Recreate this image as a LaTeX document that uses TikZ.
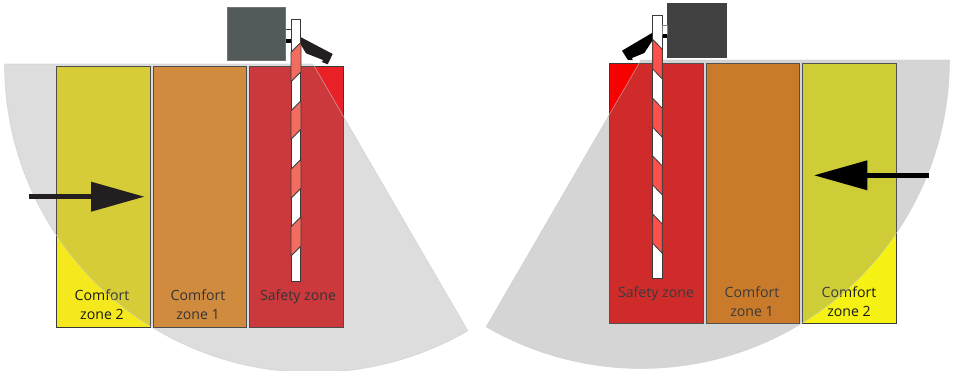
\documentclass[tikz,border=0pt]{standalone}
\usepackage{fontspec}
\setmainfont{Open Sans}
\usepackage{xcolor}
\usetikzlibrary{arrows.meta,positioning}
\definecolor{yellowL}{RGB}{245,233,30}
\definecolor{orangeL}{RGB}{238,144,40}
\definecolor{redL}{RGB}{233,32,37}
\definecolor{stripeL}{RGB}{243,108,96}
\definecolor{boxL}{RGB}{82,90,90}
\definecolor{darkL}{RGB}{35,31,32}
\definecolor{yellowR}{RGB}{245,242,20}
\definecolor{orangeR}{RGB}{237,120,2}
\definecolor{redR}{RGB}{246,2,0}
\definecolor{stripeR}{RGB}{255,80,76}
\definecolor{boxR}{RGB}{65,65,65}
\definecolor{edgegray}{RGB}{58,58,58}

\begin{document}
\begin{tikzpicture}[
  x=0.75pt, y=-0.75pt,
  zonebox/.style={rectangle, draw=edgegray, line width=0.7pt, minimum width=70.2pt, minimum height=195.6pt, inner sep=0pt},
  zonelbl/.style={font=\fontsize{10.6pt}{14.4pt}\selectfont, text=black!90, align=center, anchor=north, inner sep=0pt},
  sensor/.style={line width=0.5pt, draw=black!20},
  pole/.style={draw=edgegray, line width=0.7pt, fill=white},
  stripe/.style={draw=edgegray, line width=0.6pt},
  flow/.style={line width=3.5pt, -{Triangle[length=40pt,width=21.5pt]}},
  node distance=1.5pt
]
  \clip (0,0) rectangle (953,371);

  % left gate
  \node[zonebox, fill=yellowL] (ComfortTwoL) at (103.5,196.6) {};
  \node[zonebox, fill=orangeL, right=of ComfortTwoL] (ComfortOneL) {};
  \node[zonebox, fill=redL, right=of ComfortOneL] (SafetyL) {};
  \node[zonelbl] (TxtTwoL) at (102,289) {Comfort\\zone 2};
  \node[zonelbl] (TxtOneL) at (198,289) {Comfort\\zone 1};
  \node[zonelbl] (TxtSafeL) at (298,289) {Safety zone};

  \fill[gray, fill opacity=0.27] (313,64) -- (4.5,64) arc[start angle=180, end angle=59.86, radius=308.5] -- cycle;
  \draw[sensor, draw opacity=0.6] (313,64) -- (4.5,64) arc[start angle=180, end angle=59.86, radius=308.5] -- cycle;

  \node[rectangle, draw=black!55, line width=0.7pt, fill=boxL, minimum width=44pt, minimum height=40pt, inner sep=0pt] (BoxL) at (256.3,34.2) {};
  \node[pole, rectangle, inner sep=0pt, minimum width=7.2pt, minimum height=196.4pt] (PoleL) at (296,150.2) {};
  \draw[edgegray, line width=0.5pt] (BoxL.east |- 0,29) -- (PoleL.west |- 0,29);
  \draw[black, line width=3pt] (BoxL.east |- 0,41) -- (PoleL.west |- 0,41);
  \foreach \ytop/\ybot in {42.3/71.7, 100.7/129.3, 159.3/188.3, 216.7/246}
    \draw[stripe, fill=stripeL] (301,\ytop) -- (291,\ytop+10) -- (291,\ybot+10) -- (301,\ybot) -- cycle;
  \fill[darkL] (301,37.3) -- (332.7,54) -- (327.7,64.3) -- (322,62) -- (323,60) -- (306,53.3) -- (301,45) -- cycle;

  % right gate
  \node[zonebox, fill=redR] (SafetyR) at (656.5,193.5) {};
  \node[zonebox, fill=orangeR, right=of SafetyR] (ComfortOneR) {};
  \node[zonebox, fill=yellowR, right=of ComfortOneR] (ComfortTwoR) {};
  \node[zonelbl] (TxtSafeR) at (656,286.7) {Safety zone};
  \node[zonelbl] (TxtOneR) at (752,286.7) {Comfort\\zone 1};
  \node[zonelbl] (TxtTwoR) at (849,286.7) {Comfort\\zone 2};

  \fill[gray, fill opacity=0.33] (641,60) -- (949.5,60) arc[start angle=0, end angle=120.14, radius=308.5] -- cycle;
  \draw[sensor, draw opacity=0.6] (641,60) -- (949.5,60) arc[start angle=0, end angle=120.14, radius=308.5] -- cycle;

  \node[rectangle, fill=boxR, minimum width=44.8pt, minimum height=40.8pt, inner sep=0pt] (BoxR) at (697.2,30.5) {};
  \node[pole, rectangle, inner sep=0pt, minimum width=7.2pt, minimum height=196.6pt] (PoleR) at (657.5,147) {};
  \draw[black!50, line width=0.5pt, fill=white] (PoleR.east |- 0,25) rectangle (BoxR.west |- 0,34.3);
  \draw[black, line width=2.4pt] (PoleR.east |- 0,36) -- (BoxR.west |- 0,36);
  \foreach \ytop/\ybot in {39.3/69, 98.3/127.3, 156/185, 214/243.3}
    \draw[stripe, fill=stripeR] (652.7,\ytop) -- (662.3,\ytop+10) -- (662.3,\ybot+10) -- (652.7,\ybot) -- cycle;
  \fill[black] (652,33) -- (622,50.7) -- (627.7,59.7) -- (632.7,60.3) -- (632,58) -- (644.3,53) -- (652,41.3) -- cycle;

  % travel direction
  \coordinate (StartL) at (29.3,196.7);
  \coordinate (EndL) at (144.5,196.7);
  \coordinate (StartR) at (929.3,175.3);
  \coordinate (EndR) at (814,175.3);
  \draw[flow, draw=darkL] (StartL) -- (EndL);
  \draw[flow, draw=black] (StartR) -- (EndR);
\end{tikzpicture}
\end{document}
